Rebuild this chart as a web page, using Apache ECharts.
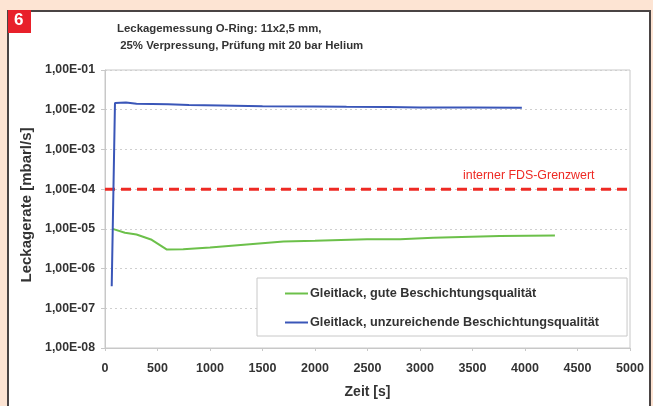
<!DOCTYPE html>
<html>
<head>
<meta charset="utf-8">
<script src="https://cdn.jsdelivr.net/npm/echarts@6/dist/echarts.min.js"></script>
<style>
  html, body { margin: 0; padding: 0; background: #fde4d3; }
  #chart { width: 653px; height: 406px; }
</style>
</head>
<body>
<div id="chart"></div>
<script>
// Leak rate over time for two coating qualities, log scale
const figureNumber = '6';
const titleLines = ['Leckagemessung O-Ring: 11x2,5 mm,', ' 25% Verpressung, Prüfung mit 20 bar Helium'];
const xAxisName = 'Zeit [s]';
const yAxisName = 'Leckagerate [mbarl/s]';
const xTicks = [0, 500, 1000, 1500, 2000, 2500, 3000, 3500, 4000, 4500, 5000];
const yTickLabels = ['1,00E-08', '1,00E-07', '1,00E-06', '1,00E-05', '1,00E-04', '1,00E-03', '1,00E-02', '1,00E-01'];

const seriesNames = ['Gleitlack, gute Beschichtungsqualität', 'Gleitlack, unzureichende Beschichtungsqualität'];

// [time s, leak rate mbar·l/s]
const goodCoating = [
  [73, 1.0e-5], [190, 8.0e-6], [300, 7.2e-6], [445, 5.3e-6], [590, 3.0e-6],
  [745, 3.05e-6], [1000, 3.4e-6], [1380, 4.1e-6], [1700, 4.8e-6], [2000, 5.0e-6],
  [2495, 5.5e-6], [2810, 5.5e-6], [3125, 6.0e-6], [3760, 6.6e-6], [4285, 6.8e-6]
];
const poorCoating = [
  [64, 3.6e-7], [95, 1.48e-2], [200, 1.52e-2], [300, 1.42e-2], [600, 1.38e-2],
  [800, 1.32e-2], [1100, 1.28e-2], [1500, 1.23e-2], [2000, 1.2e-2], [2300, 1.18e-2],
  [2700, 1.17e-2], [3000, 1.13e-2], [3500, 1.13e-2], [3970, 1.12e-2]
];

const limitName = 'interner FDS-Grenzwert';
const limitValue = 1e-4;
const limitLine = [[xTicks[0], limitValue], [xTicks[xTicks.length - 1], limitValue]];

const font = '"Liberation Sans", Arial, sans-serif';
const chart = echarts.init(document.getElementById('chart'));

chart.setOption({
  animation: false,
  backgroundColor: '#fde4d3',
  graphic: [
    { type: 'rect', z: -10, shape: { x: 8, y: 11, width: 642, height: 420 },
      style: { fill: '#ffffff', stroke: '#4a4444', lineWidth: 2 } },
    { type: 'rect', z: -9, shape: { x: 8, y: 10, width: 23, height: 23 },
      style: { fill: '#e8202a' } },
    { type: 'text', z: -8, left: 14, top: 12,
      style: { text: figureNumber, fill: '#ffffff', font: 'bold 17px ' + font } }
  ],
  title: {
    text: titleLines.join('\n'),
    left: 112, top: 15,
    textStyle: { fontFamily: font, fontSize: 11.4, fontWeight: 'bold', color: '#333', lineHeight: 17 }
  },
  grid: { left: 105, right: 23, top: 70, bottom: 58, show: true, borderColor: '#c8c8c8', borderWidth: 1 },
  legend: {
    orient: 'vertical',
    left: 257, top: 278,
    padding: [9, 28, 7, 28],
    itemGap: 16,
    icon: 'rect',
    itemWidth: 23, itemHeight: 2,
    backgroundColor: '#ffffff',
    borderColor: '#c8c8c8', borderWidth: 1,
    data: seriesNames,
    textStyle: { fontFamily: font, fontSize: 12.7, fontWeight: 'bold', color: '#333', padding: [0, 0, 0, -3] }
  },
  xAxis: {
    type: 'value', min: xTicks[0], max: xTicks[xTicks.length - 1], interval: 500,
    name: xAxisName, nameLocation: 'middle', nameGap: 37,
    nameTextStyle: { fontFamily: font, fontSize: 14, fontWeight: 'bold', color: '#333' },
    axisLine: { lineStyle: { color: '#c8c8c8' } },
    axisTick: { show: true, length: 3, lineStyle: { color: '#c8c8c8' } },
    axisLabel: { margin: 14, fontFamily: font, fontSize: 12.5, fontWeight: 'bold', color: '#333',
      formatter: v => String(v) },
    splitLine: { show: false }
  },
  yAxis: {
    type: 'log', logBase: 10, min: 1e-8, max: 1e-1,
    name: yAxisName, nameLocation: 'middle', nameGap: 59,
    nameTextStyle: { fontFamily: font, fontSize: 15, fontWeight: 'bold', color: '#333', padding: [0, 0, 0, 8] },
    axisLine: { show: true, lineStyle: { color: '#c8c8c8' } },
    axisTick: { show: true, length: 4, lineStyle: { color: '#c8c8c8' } },
    axisLabel: {
      margin: 10, fontFamily: font, fontSize: 12.3, fontWeight: 'bold', color: '#333',
      formatter: v => yTickLabels[Math.round(Math.log10(v)) + 8]
    },
    splitLine: { show: true, lineStyle: { color: '#cfcfcf', type: [2, 3] } }
  },
  series: [
    {
      name: seriesNames[0], type: 'line', data: goodCoating,
      symbol: 'none', lineStyle: { color: '#6cc04a', width: 2 }, itemStyle: { color: '#6cc04a' }, z: 3
    },
    {
      name: seriesNames[1], type: 'line', data: poorCoating,
      symbol: 'none', lineStyle: { color: '#3a56b8', width: 2 }, itemStyle: { color: '#3a56b8' }, z: 4
    },
    {
      name: limitName, type: 'line', data: limitLine, z: 2,
      symbol: 'none',
      lineStyle: { color: '#ee2a24', width: 3, type: [10, 6] },
      endLabel: {
        show: true, formatter: limitName, offset: [-175, -14],
        fontFamily: font, fontSize: 12.4, color: '#ee2a24'
      }
    }
  ]
});
</script>
</body>
</html>
